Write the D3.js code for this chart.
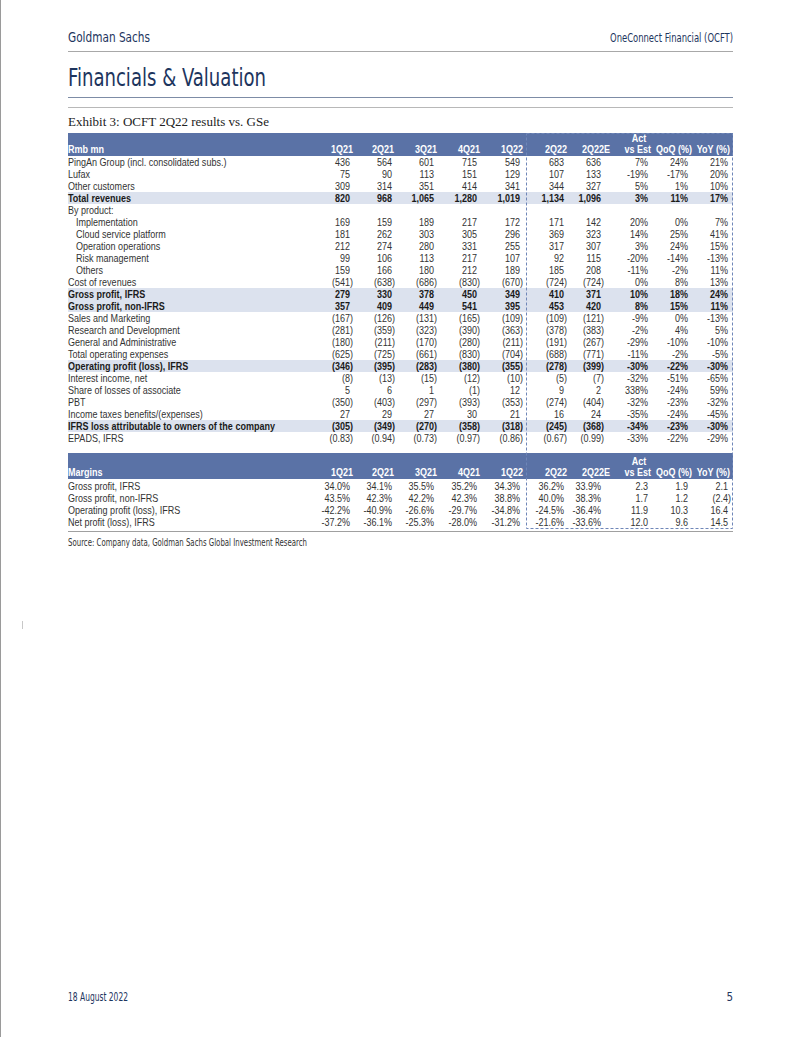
<!DOCTYPE html>
<html><head><meta charset="utf-8">
<script src="https://cdn.jsdelivr.net/npm/d3@7"></script>
<style>
html,body{margin:0;padding:0;background:#fff;}
svg{display:block;}
</style></head>
<body>
<svg id="c" width="802" height="1037"></svg>
<script>
// ---------- DATA ----------
const headers = ["1Q21","2Q21","3Q21","4Q21","1Q22","2Q22","2Q22E","vs Est","QoQ (%)","YoY (%)"];
const rowLabels = ["PingAn Group (incl. consolidated subs.)","Lufax","Other customers","Total revenues","By product:",
  "Implementation","Cloud service platform","Operation operations","Risk management","Others","Cost of revenues",
  "Gross profit, IFRS","Gross profit, non-IFRS","Sales and Marketing","Research and Development","General and Administrative",
  "Total operating expenses","Operating profit (loss), IFRS","Interest income, net","Share of losses of associate","PBT",
  "Income taxes benefits/(expenses)","IFRS loss attributable to owners of the company","EPADS, IFRS"];
const boldRows = ["Total revenues","Gross profit, IFRS","Gross profit, non-IFRS","Operating profit (loss), IFRS","IFRS loss attributable to owners of the company"];
const indentRows = ["Implementation","Cloud service platform","Operation operations","Risk management","Others"];
const q1_21 = [436,75,309,820,null,169,181,212,99,159,-541,279,357,-167,-281,-180,-625,-346,-8,5,-350,27,-305,-0.83];
const q2_21 = [564,90,314,968,null,159,262,274,106,166,-638,330,409,-126,-359,-211,-725,-395,-13,6,-403,29,-349,-0.94];
const q3_21 = [601,113,351,1065,null,189,303,280,113,180,-686,378,449,-131,-323,-170,-661,-283,-15,1,-297,27,-270,-0.73];
const q4_21 = [715,151,414,1280,null,217,305,331,217,212,-830,450,541,-165,-390,-280,-830,-380,-12,-1,-393,30,-358,-0.97];
const q1_22 = [549,129,341,1019,null,172,296,255,107,189,-670,349,395,-109,-363,-211,-704,-355,-10,12,-353,21,-318,-0.86];
const q2_22 = [683,107,344,1134,null,171,369,317,92,185,-724,410,453,-109,-378,-191,-688,-278,-5,9,-274,16,-245,-0.67];
const q2_22E = [636,133,327,1096,null,142,323,307,115,208,-724,371,420,-121,-383,-267,-771,-399,-7,2,-404,24,-368,-0.99];
const vsEst = [7,-19,5,3,null,20,14,3,-20,-11,0,10,8,-9,-2,-29,-11,-30,-32,338,-32,-35,-34,-33];
const qoq = [24,-17,1,11,null,0,25,24,-14,-2,8,18,15,0,4,-10,-2,-22,-51,-24,-23,-24,-23,-22];
const yoy = [21,20,10,17,null,7,41,15,-13,11,13,24,11,-13,5,-10,-5,-30,-65,59,-32,-45,-30,-29];

const marginLabels = ["Gross profit, IFRS","Gross profit, non-IFRS","Operating profit (loss), IFRS","Net profit (loss), IFRS"];
const m1_21 = [34.0,43.5,-42.2,-37.2];
const m2_21 = [34.1,42.3,-40.9,-36.1];
const m3_21 = [35.5,42.2,-26.6,-25.3];
const m4_21 = [35.2,42.3,-29.7,-28.0];
const m1_22 = [34.3,38.8,-34.8,-31.2];
const m2_22 = [36.2,40.0,-24.5,-21.6];
const m2_22E = [33.9,38.3,-36.4,-33.6];
const mVsEst = [2.3,1.7,11.9,12.0];
const mQoq = [1.9,1.2,10.3,9.6];
const mYoy = [2.1,-2.4,16.4,14.5];

// ---------- LAYOUT ----------
const svg = d3.select("#c");
const L = 68, R = 733;
const navy = "#1d355e";
const band = "#5a72a6";
const hilite = "#dce2ee";
const textCol = "#333";
const sans = "'Liberation Sans', Arial, sans-serif";
const cond = "'Liberation Sans Narrow','DejaVu Sans Condensed','Roboto Condensed',sans-serif";
const SX = 0.86; // horizontal compression of table text
const place = (x,y) => `translate(${x},${y}) scale(${SX},1)`;

// page border
svg.append("line").attr("x1",0.5).attr("x2",0.5).attr("y1",0).attr("y2",1037).attr("stroke","#9a9a9a");
svg.append("line").attr("x1",22.5).attr("x2",22.5).attr("y1",621).attr("y2",629).attr("stroke","#c8c8c8");

// page header
svg.append("text").attr("x",L).attr("y",42).attr("font-family",cond).attr("font-size",14).attr("fill",navy)
  .attr("textLength",82).attr("lengthAdjust","spacingAndGlyphs").text("Goldman Sachs");
svg.append("text").attr("x",R).attr("y",42).attr("text-anchor","end").attr("font-family",cond).attr("font-size",12).attr("fill",navy)
  .attr("textLength",123).attr("lengthAdjust","spacingAndGlyphs").text("OneConnect Financial (OCFT)");
svg.append("line").attr("x1",L).attr("x2",R).attr("y1",51.5).attr("y2",51.5).attr("stroke","#a8a8a8");
svg.append("text").attr("x",L).attr("y",86).attr("font-family",cond).attr("font-size",25).attr("fill",navy)
  .attr("textLength",198).attr("lengthAdjust","spacingAndGlyphs").text("Financials & Valuation");
svg.append("line").attr("x1",L).attr("x2",R).attr("y1",97.5).attr("y2",97.5).attr("stroke","#7d8ca6");
svg.append("line").attr("x1",L).attr("x2",R).attr("y1",107.5).attr("y2",107.5).attr("stroke","#b8b8b8");
svg.append("text").attr("x",L).attr("y",126).attr("font-family","'Liberation Serif','Times New Roman',serif").attr("font-size",13)
  .attr("fill","#222").text("Exhibit 3: OCFT 2Q22 results vs. GSe");

// column scale: right edges
const colEdge = d3.scaleOrdinal().domain(headers).range([353,395,437,480,523,567,604,651,691,731]);
const headEdge = d3.scaleOrdinal().domain(headers).range([353,394,437,480,523,567,610,651,692,730]);

const fmtInt = d3.format(",.0f");
function acct(v, dec){
  if (v==null) return "";
  const s = dec ? d3.format(",."+dec+"f")(Math.abs(v)) : fmtInt(Math.abs(v));
  return v < 0 ? "("+s+")" : s;
}
function pct0(v){ return v==null ? "" : d3.format(".0f")(v).replace("−","-")+"%"; }
function pct1(v){ return d3.format(".1f")(v).replace("−","-")+"%"; }

function drawHeader(y0, h, firstLabel){
  svg.append("rect").attr("x",L).attr("y",y0).attr("width",R-L).attr("height",h).attr("fill",band);
  const g = svg.append("g").attr("font-family",sans).attr("font-size",10.5).attr("font-weight","bold").attr("fill","#fff");
  const yb = y0+h-3;
  g.append("text").attr("transform",place(L,yb)).text(firstLabel);
  g.selectAll("text.h").data(headers).join("text").attr("class","h")
    .attr("transform",d=>place(headEdge(d),yb)).attr("text-anchor","end").text(d=>d);
  g.append("text").attr("transform",place(headEdge("vs Est")-12,yb-11)).attr("text-anchor","middle").text("Act");
}

// ---- Main table ----
const rowY = d3.scaleBand().domain(d3.range(rowLabels.length)).range([156,156+12*rowLabels.length]);
drawHeader(133, 23, "Rmb mn");

const rows = rowLabels.map((lab,i)=>{
  const isEps = lab.startsWith("EPADS");
  const fmt = v => acct(v, isEps ? 2 : 0);
  const cells = [q1_21[i],q2_21[i],q3_21[i],q4_21[i],q1_22[i],q2_22[i],q2_22E[i]].map(fmt)
     .concat([vsEst[i],qoq[i],yoy[i]].map(pct0));
  return {lab, i, bold: boldRows.includes(lab), indent: indentRows.includes(lab), cells};
});

svg.selectAll("rect.hl").data(rows.filter(r=>r.bold)).join("rect").attr("class","hl")
  .attr("x",L).attr("width",R-L).attr("y",r=>rowY(r.i)).attr("height",rowY.bandwidth()).attr("fill",hilite);

function drawRows(data, yScale){
  const g = svg.append("g").attr("font-family",sans).attr("font-size",10.5).attr("fill",textCol);
  const rg = g.selectAll("g").data(data).join("g")
    .attr("transform",r=>`translate(0,${yScale(r.i)+yScale.bandwidth()/2+3.8})`)
    .attr("font-weight",r=>r.bold?"bold":"normal")
    .attr("fill",r=>r.bold?"#1a1a1a":textCol);
  rg.append("text").attr("transform",r=>place(L+(r.indent?8:0),0)).text(r=>r.lab);
  rg.selectAll("text.v").data(r=>r.cells.map((c,j)=>({c,h:headers[j]}))).join("text").attr("class","v")
    .attr("text-anchor","end")
    .attr("transform",d=>place(colEdge(d.h) - (d.c.endsWith(")") ? 0 : 3),0))
    .text(d=>d.c);
}
drawRows(rows, rowY);

// ---- Margins table ----
drawHeader(453, 26, "Margins");
const mY = d3.scaleBand().domain(d3.range(marginLabels.length)).range([480,480+12*marginLabels.length]);
const mrows = marginLabels.map((lab,i)=>({
  lab, i, bold:false, indent:false,
  cells: [m1_21[i],m2_21[i],m3_21[i],m4_21[i],m1_22[i],m2_22[i],m2_22E[i]].map(pct1)
     .concat([mVsEst[i],mQoq[i],mYoy[i]].map(v=>acct(v,1)))
}));
drawRows(mrows, mY);
svg.append("line").attr("x1",L).attr("x2",R).attr("y1",531.5).attr("y2",531.5).attr("stroke","#a0a0a0");

// dashed box around actual vs estimate
const bx0 = (colEdge("1Q22")+3), bx1 = R, by0 = 133, by1 = mY.range()[1];
svg.append("rect").attr("x",bx0+0.5).attr("y",by0+0.5).attr("width",bx1-bx0-1).attr("height",by1-by0)
  .attr("fill","none").attr("stroke","#6f86b8").attr("stroke-width",1).attr("stroke-dasharray","3,2");

// source
svg.append("text").attr("x",L).attr("y",546).attr("font-family",cond).attr("font-size",10).attr("fill","#333")
  .attr("textLength",239).attr("lengthAdjust","spacingAndGlyphs")
  .text("Source: Company data, Goldman Sachs Global Investment Research");

// footer
svg.append("text").attr("x",L).attr("y",1001).attr("font-family",cond).attr("font-size",11.5).attr("fill",navy)
  .attr("textLength",60).attr("lengthAdjust","spacingAndGlyphs").text("18 August 2022");
svg.append("text").attr("x",R).attr("y",1001).attr("text-anchor","end").attr("font-family",cond).attr("font-size",11.5).attr("fill",navy).text("5");
</script>
</body></html>
